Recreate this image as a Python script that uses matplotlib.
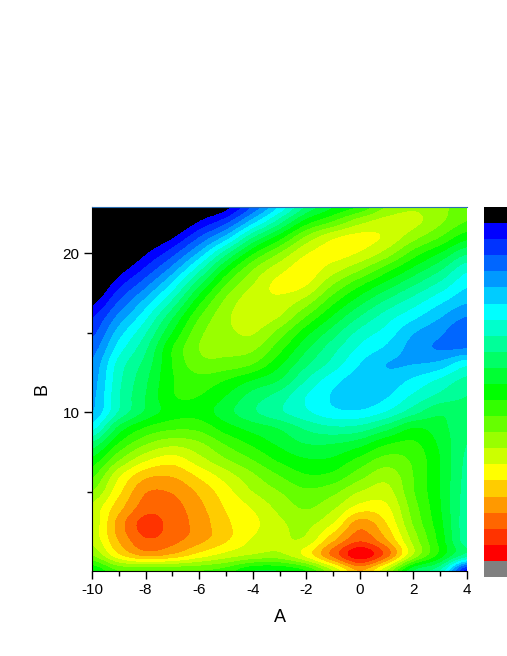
#!/usr/bin/env python3
"""Filled contour map of B against A with a stepped rainbow scale."""
import numpy as np
import matplotlib
matplotlib.use("Agg")
import matplotlib.pyplot as plt
from matplotlib.colors import ListedColormap, BoundaryNorm
from matplotlib.ticker import FixedLocator, MultipleLocator

plt.rcParams["font.family"] = ["Liberation Sans", "DejaVu Sans"]
plt.rcParams["axes.unicode_minus"] = False

A_VALUES = list(range(-10, 5))
B_VALUES = list(range(23, -1, -1))

# band index, one row per B (top row first), one column per A
B23 = [-7, -5.5, -3.5, -2.5, -0.6, 0.5, 3, 6, 9, 10.8, 12, 14, 14.8, 14.3, 13.4]
B22 = [-5.5, -4, -2, -0.8, 1, 2.6, 5.5, 8.5, 11.4, 13, 14.6, 15.4, 15.3, 14.2, 13]
B21 = [-4.3, -2.5, -0.5, 0.85, 3, 5.4, 8.9, 11.5, 14.2, 15.8, 16.3, 15.8, 14.4, 13, 11.4]
B20 = [-3, -1, 0.85, 2.6, 5.2, 8.6, 11.8, 14, 15.9, 16.4, 15.9, 14.6, 12.6, 11, 9.2]
B19 = [-1.8, 0.35, 2.2, 4.4, 7.6, 11.2, 13.9, 15.6, 16.5, 15.5, 14.2, 12.5, 10.8, 9.2, 7.3]
B18 = [-0.6, 1.7, 3.7, 6.3, 9.8, 13, 15, 16.3, 16.05, 14, 12.2, 10.6, 9.1, 7.7, 6.2]
B17 = [0.6, 3, 5.3, 8.1, 11.6, 14.2, 15.6, 15.7, 14.6, 12.4, 10.5, 8.9, 7.6, 6.3, 5.2]
B16 = [1.9, 4.3, 6.7, 9.8, 12.9, 14.75, 15.6, 15, 13, 10.9, 9, 7.5, 6.3, 5.1, 4]
B15 = [2.7, 5.5, 7.9, 11, 13.7, 14.7, 15.1, 13.6, 11.4, 9.5, 7.7, 6.6, 5.1, 4.2, 3.1]
B14 = [3.5, 6.5, 8.8, 12, 14, 14.3, 14.2, 12.4, 10.2, 8.4, 6.8, 5.8, 4.6, 3.9, 4]
B13 = [4.2, 7.4, 9.4, 12, 13.6, 13.6, 13, 11.2, 9.2, 7.6, 6, 5, 5, 5.4, 6.8]
B12 = [4.5, 7.7, 9.8, 11.9, 12.6, 12, 11, 10, 8, 6.4, 5.5, 5.4, 6.2, 7.2, 8.3]
B11 = [4.7, 7.9, 10, 11.9, 12, 11, 9.6, 8.6, 7, 5.9, 5.3, 5.9, 7.2, 8.3, 9]
B10 = [5, 8.1, 10.2, 11.5, 11.6, 10.4, 9.2, 8.2, 7.2, 6.3, 6.2, 7.1, 8.6, 9.8, 9.2]
B9 = [6.6, 10.3, 12.1, 12.8, 12.7, 11.5, 10.6, 9.9, 8.8, 8.2, 8.4, 9.6, 11, 10.4, 9.1]
B8 = [9.3, 12.1, 13.9, 14.7, 14.2, 12.9, 11.8, 10.8, 10, 10, 10.6, 11.9, 12.2, 10.8, 9]
B7 = [11.3, 13.9, 15.8, 16.5, 15.4, 14.1, 13, 11.8, 11.1, 11.2, 12.3, 13.4, 12.8, 11, 8.8]
B6 = [12.8, 15.8, 17.7, 17.9, 16.8, 15.5, 14.2, 13, 12.1, 12.3, 13.6, 14.6, 13, 11, 8.7]
B5 = [14, 16.7, 18.9, 18.9, 17.8, 16.4, 15, 14, 13.2, 13.7, 15, 15.4, 13.1, 11, 8.6]
B4 = [15.3, 17.6, 19.5, 19.4, 18.3, 16.9, 15.9, 14.7, 13.9, 14.8, 16.4, 16.2, 13.5, 11.1, 8.5]
B3 = [15.3, 18.4, 20.4, 19.6, 18.6, 17.2, 16.3, 15.2, 14.7, 16, 18.5, 17, 13.9, 11.3, 8.4]
B2 = [15.3, 18.1, 19.9, 19.4, 18.4, 17.2, 15.9, 15.2, 15.2, 17.7, 19.7, 18, 14.6, 11.6, 8.4]
B1 = [14, 16.8, 18.3, 17.8, 16.6, 15.6, 14.9, 14.7, 16.3, 19.3, 21.7, 19.5, 14.9, 11.6, 8.6]
B0 = [11, 13, 13, 13, 13, 12.5, 11, 11, 12, 15, 18, 15, 10, 8, 1.5]

BAND_COLORS = ["#000000", "#0000ff", "#0033ff", "#0066ff", "#0099ff", "#00ccff", "#00ffff",
               "#00ffcc", "#00ff99", "#00ff66", "#00ff33", "#00ff00", "#33ff00", "#66ff00",
               "#99ff00", "#ccff00", "#ffff00", "#ffcc00", "#ff9900", "#ff6600", "#ff3300",
               "#ff0000", "#808080"]
BAND_EDGES = [-100] + list(range(1, 23)) + [100]

W, H = 507, 656
field = np.array([B23, B22, B21, B20, B19, B18, B17, B16, B15, B14, B13, B12, B11, B10,
                  B9, B8, B7, B6, B5, B4, B3, B2, B1, B0], float)
cmap = ListedColormap(BAND_COLORS)
norm = BoundaryNorm(BAND_EDGES, cmap.N)

fig = plt.figure(figsize=(W / 100, H / 100), dpi=100)
ax = fig.add_axes([92 / W, 1 - 571 / H, 375 / W, 364 / H])
im = ax.imshow(field, cmap=cmap, norm=norm, aspect="auto", origin="upper",
               interpolation="catrom", interpolation_stage="data",
               extent=(A_VALUES[0] - 0.5, A_VALUES[-1] + 0.5, B_VALUES[-1] - 0.5, B_VALUES[0] + 0.5))
ax.set_xlim(-10, 4)
ax.set_ylim(0, 22.9)
ax.xaxis.set_major_locator(MultipleLocator(2))
ax.xaxis.set_minor_locator(MultipleLocator(1))
ax.yaxis.set_major_locator(FixedLocator([10, 20]))
ax.yaxis.set_minor_locator(FixedLocator([5, 15]))
ax.tick_params(which="major", length=6, width=1, labelsize=11, pad=3)
ax.tick_params(which="minor", length=3.5, width=1)
ax.spines["right"].set_visible(False)
ax.spines["top"].set_color("#2a6db0")
ax.spines["top"].set_linewidth(0.8)
ax.set_xlabel("A", fontsize=13, labelpad=8)
ax.set_ylabel("B", fontsize=13, labelpad=9)

cax = fig.add_axes([484 / W, 1 - 577 / H, 40 / W, 370 / H])
cb = fig.colorbar(im, cax=cax, spacing="uniform", ticks=[])
cb.minorticks_off()
cb.outline.set_visible(False)
cax.invert_yaxis()

fig.savefig("out.png", dpi=100)
